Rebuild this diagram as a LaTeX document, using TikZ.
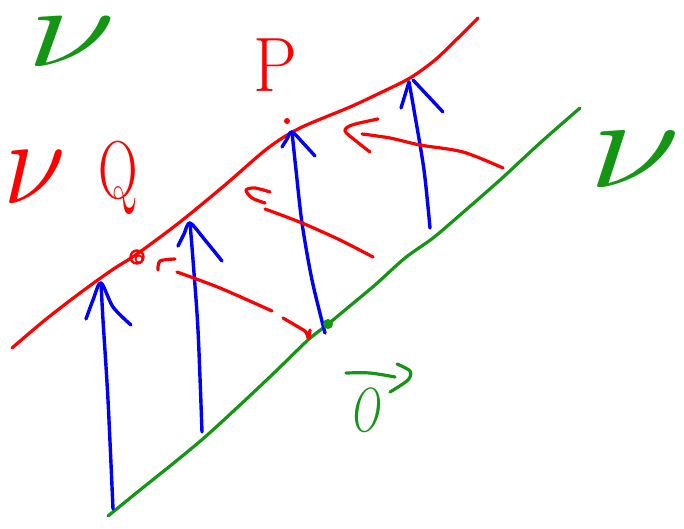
\documentclass[tikz,border=0pt]{standalone}
\usepackage{graphicx}
\definecolor{pred}{RGB}{255,0,0}
\definecolor{pgreen}{RGB}{20,150,20}
\definecolor{pblue}{RGB}{0,0,255}
\tikzset{
  rstroke/.style={draw=pred,line width=3.2pt,line cap=round,line join=round},
  gstroke/.style={draw=pgreen,line width=3.2pt,line cap=round,line join=round},
  bstroke/.style={draw=pblue,line width=3.4pt,line cap=round,line join=round},
  lbl/.style={inner sep=0pt,anchor=center}
}
\begin{document}
\begin{tikzpicture}[x=1pt,y=-1pt]
\useasboundingbox (0,0) rectangle (684,529);
\fill[white] (0,0) rectangle (684,529);

% red world line
\draw[rstroke] plot[smooth,tension=0.5] coordinates {(12,348) (45,320) (80,293) (112,270) (137,254) (180,222) (225,185) (268,148) (300,128) (350,107) (380,93) (410,78) (435,60) (458,38) (478,18)};
% green world line
\draw[gstroke] plot[smooth,tension=0.5] coordinates {(108,516) (140,490) (175,462) (205,437) (240,405) (275,372) (308,340) (327,325) (345,310) (375,285) (405,258) (433,238) (460,215) (500,180) (540,143) (580,108)};

% blue arrows
\draw[bstroke] plot[smooth] coordinates {(113,509) (108,400) (103,320) (101,283)};
\draw[bstroke] plot[smooth] coordinates {(86,319) (93,300) (101,283) (113,307) (131,325)};
\draw[bstroke] plot[smooth] coordinates {(202,432) (198,330) (193,260) (190,223)};
\draw[bstroke] plot[smooth] coordinates {(178,246) (184,234) (190,223) (205,240) (222,261)};
\draw[bstroke] plot[smooth] coordinates {(325,333) (312,280) (302,223) (296,170) (292,132)};
\draw[bstroke] plot[smooth] coordinates {(282,147) (287,139) (292,132) (304,144) (315,156)};
\draw[bstroke] plot[smooth] coordinates {(430,228) (424,170) (414,110) (409,82)};
\draw[bstroke] plot[smooth] coordinates {(401,108) (405,95) (409,82)};
\draw[bstroke] plot[smooth] coordinates {(413,80) (428,96) (443,112)};

% red arrows
\draw[rstroke] plot[smooth] coordinates {(177,272) (220,288) (272,311)};
\draw[rstroke] plot[smooth] coordinates {(175,259) (160,261) (158,270)};
\draw[rstroke] plot[smooth] coordinates {(283,318) (300,328) (306,332) (308,338)};
\draw[rstroke] (310,330) -- (309,338);
\draw[rstroke] plot[smooth] coordinates {(265,209) (302,223) (340,240) (373,257)};
\draw[rstroke] plot[smooth] coordinates {(270,192) (255,188) (246,190) (252,198) (265,203)};
\draw[rstroke] plot[smooth] coordinates {(362,134) (390,138) (420,145) (463,152) (503,168)};
\draw[rstroke] plot[smooth] coordinates {(378,119) (352,125) (345,131) (356,141) (370,152)};

% events
\draw[draw=pred,line width=2.4pt] (137,257) circle (6.5);
\draw[draw=pred,line width=1.8pt] (139,259) circle (3.5);
\fill[pred] (287,121) circle (3);
\fill[pgreen] (328,324) circle (5);

% labels
\node[lbl,text=pgreen] (nu1) at (71,42) {\scalebox{6.6}[4.6]{\Huge$\nu$}};
\node[lbl,text=pred] (nu2) at (35,177) {\scalebox{4.6}[4.9]{\Huge$\nu$}};
\node[lbl,text=pred] (q) at (118,178) {\scalebox{2.2}[3.3]{\Huge Q}};
\node[lbl,text=pred] (p) at (275,65) {\scalebox{2.8}[3.1]{\Huge P}};
\node[lbl,text=pgreen] (o) at (368,410) {\scalebox{1.5}[2.5]{\Huge$O$}};
\draw[gstroke] plot[smooth] coordinates {(346,373) (370,373) (395,377)};
\draw[gstroke] plot[smooth] coordinates {(397,364) (410,371) (408,380) (390,392)};
\node[lbl,text=pgreen] (nu3) at (635,160) {\scalebox{6.8}[5.2]{\Huge$\nu$}};
\end{tikzpicture}
\end{document}
